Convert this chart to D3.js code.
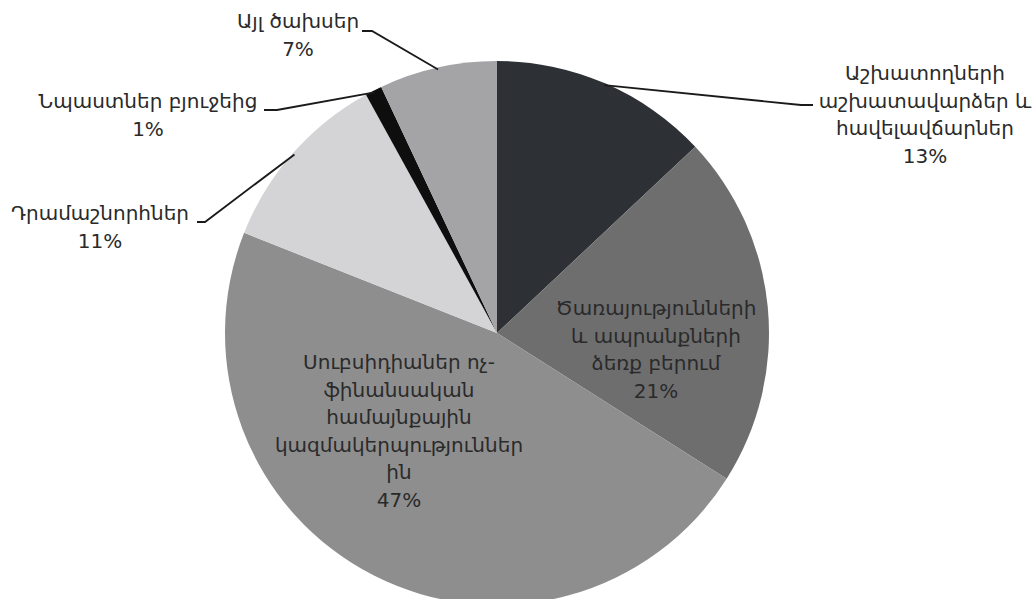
<!DOCTYPE html>
<html><head><meta charset="utf-8">
<script src="https://cdn.jsdelivr.net/npm/d3@7"></script>
<style>html,body{margin:0;padding:0;background:#fff;}svg{display:block;}</style>
</head><body>
<svg id="chart" width="1036" height="599"></svg>
<script>
// ---- data ----
const categories = [
  ["Աշխատողների", "աշխատավարձեր և", "հավելավճարներ"],
  ["Ծառայությունների", "և ապրանքների", "ձեռք բերում"],
  ["Սուբսիդիաներ ոչ-", "ֆինանսական", "համայնքային", "կազմակերպություններ", "ին"],
  ["Դրամաշնորհներ"],
  ["Նպաստներ բյուջեից"],
  ["Այլ ծախսեր"]
];
const values = [13, 21, 47, 11, 1, 7];
const percentLabels = ["13%", "21%", "47%", "11%", "1%", "7%"];
const colors = ["#2d3136", "#6e6e6f", "#8e8e8f", "#d4d4d7", "#0e0e0e", "#a4a4a7"];

// ---- layout ----
const W = 1036, H = 599;
const cx = 497, cy = 333, R = 272;
const fontSize = 20, lineH = 27.5;
const svg = d3.select("#chart");
const g = svg.append("g").attr("transform", `translate(${cx},${cy})`);

const pie = d3.pie().sort(null).value(d => d);
const arcs = pie(values);
const arc = d3.arc().innerRadius(0).outerRadius(R);

g.selectAll("path.slice").data(arcs).enter().append("path")
  .attr("class", "slice")
  .attr("d", arc)
  .attr("fill", (d, i) => colors[i]);

// label placement (relative to pie centre)
const labelCfg = [
  {type: "out", tx: 428, ty: -253, elbow: [304, -228], end: [316, -228]},
  {type: "in", tx: 159, ty: -18},
  {type: "in", tx: -98, ty: 36},
  {type: "out", tx: -397, ty: -113, elbow: [-292, -111], end: [-300, -111]},
  {type: "out", tx: -349, ty: -225, elbow: [-220, -223], end: [-233, -223]},
  {type: "out", tx: -199, ty: -305, elbow: [-125, -302], end: [-135, -302]}
];

function pointOnEdge(d, r) {
  const a = (d.startAngle + d.endAngle) / 2;
  return [r * Math.sin(a), -r * Math.cos(a)];
}

arcs.forEach((d, i) => {
  const cfg = labelCfg[i];
  const lines = categories[i].concat([percentLabels[i]]);
  if (cfg.type === "out") {
    const p0 = pointOnEdge(d, R - 2);
    g.append("polyline")
      .attr("points", [p0, cfg.elbow, cfg.end].map(p => p.join(",")).join(" "))
      .attr("fill", "none").attr("stroke", "#1a1a1a").attr("stroke-width", 1.8);
  }
  const t = g.append("text")
    .attr("x", cfg.tx).attr("y", cfg.ty)
    .attr("text-anchor", "middle")
    .attr("font-family", "'DejaVu Sans', sans-serif")
    .attr("font-size", fontSize)
    .attr("fill", "#2a2a2a");
  lines.forEach((ln, k) => {
    t.append("tspan").attr("x", cfg.tx).attr("dy", k === 0 ? 0 : lineH).text(ln);
  });
});
</script>
</body></html>
